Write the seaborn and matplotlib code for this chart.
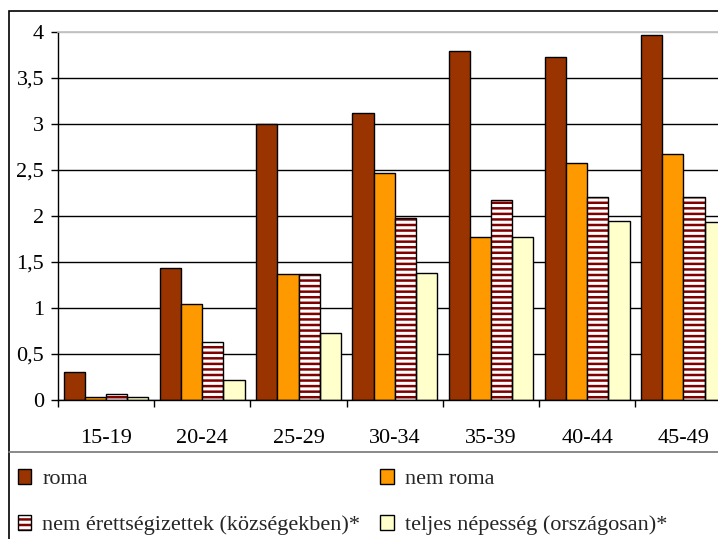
import matplotlib

matplotlib.use("Agg")
import matplotlib.pyplot as plt
import numpy as np
import pandas as pd
import seaborn as sns
from matplotlib.lines import Line2D
from matplotlib.patches import Patch, Rectangle
from matplotlib.ticker import FuncFormatter

# ---- data ----
age_groups = ["15-19", "20-24", "25-29", "30-34", "35-39", "40-44", "45-49"]
roma = [0.30, 1.43, 3.00, 3.12, 3.79, 3.73, 3.97]
nem_roma = [0.03, 1.04, 1.37, 2.47, 1.77, 2.58, 2.67]
nem_erettsegizett = [0.07, 0.63, 1.37, 1.98, 2.17, 2.21, 2.21]
teljes_nepesseg = [0.03, 0.22, 0.73, 1.38, 1.77, 1.95, 1.93]

series_names = [
    "roma",
    "nem roma",
    "nem érettségizettek (községekben)*",
    "teljes népesség (országosan)*",
]
series_colors = ["#993300", "#FF9900", "#FFFFFF", "#FFFFCC"]
stripe_color = "#800000"

df = pd.DataFrame({
    "korcsoport": age_groups * 4,
    "ertek": roma + nem_roma + nem_erettsegizett + teljes_nepesseg,
    "csoport": np.repeat(series_names, len(age_groups)),
})

sns.set_theme(style="white")
plt.rcParams["font.family"] = ["Liberation Serif", "DejaVu Serif"]
plt.rcParams["hatch.linewidth"] = 1.8
FS = 16

W, H = 718, 539
fig = plt.figure(figsize=(W / 100, H / 100), dpi=100)
ax = fig.add_axes([58 / W, 139 / H, 673.5 / W, 368 / H])

sns.barplot(
    data=df, x="korcsoport", y="ertek", hue="csoport",
    order=age_groups, hue_order=series_names,
    palette=dict(zip(series_names, series_colors)),
    width=0.88, saturation=1, errorbar=None,
    edgecolor="black", linewidth=1, legend=False, ax=ax,
)

# striped series: red hatch on white, black outline drawn on top
for bar in ax.containers[2]:
    bar.set_hatch("---")
    bar.set_edgecolor(stripe_color)
    bar.set_linewidth(0)
    ax.add_patch(Rectangle(bar.get_xy(), bar.get_width(), bar.get_height(),
                           fill=False, edgecolor="black", linewidth=1, zorder=3))

ax.set_xlim(-0.5, len(age_groups) - 0.5)
ax.set_ylim(0, 4)
ax.set_yticks(np.arange(0, 4.01, 0.5))
ax.yaxis.set_major_formatter(FuncFormatter(lambda v, _: f"{v:g}".replace(".", ",")))
ax.set_xlabel("")
ax.set_ylabel("")

ax.grid(axis="y", color="black", linewidth=1)
ax.set_axisbelow(True)
ax.yaxis.get_major_ticks()[-1].gridline.set_color("#c0c0c0")

for side in ("left", "bottom"):
    ax.spines[side].set_color("black")
    ax.spines[side].set_linewidth(1)
ax.spines["top"].set_color("#c0c0c0")
ax.spines["right"].set_visible(False)

ax.tick_params(axis="y", left=True, length=5, width=1, color="black",
               labelsize=FS, pad=5, labelcolor="black")
ax.tick_params(axis="x", which="major", length=0, pad=21, labelsize=FS,
               labelcolor="black")
ax.set_xticks(np.arange(-0.5, len(age_groups), 1), minor=True)
ax.tick_params(axis="x", which="minor", bottom=True, length=5, width=1,
               color="black")

# legend: two columns below the plot
handles = [
    Patch(facecolor=series_colors[0], edgecolor="black", linewidth=1),
    (Patch(facecolor="white", edgecolor=stripe_color, hatch="---", linewidth=0),
     Patch(fill=False, edgecolor="black", linewidth=1)),
    Patch(facecolor=series_colors[1], edgecolor="black", linewidth=1),
    Patch(facecolor=series_colors[3], edgecolor="black", linewidth=1),
]
labels = [series_names[0], series_names[2], series_names[1], series_names[3]]
fig.legend(
    handles, labels, loc="upper left", bbox_to_anchor=(18 / W, 1 - 469 / H),
    ncol=2, frameon=False, fontsize=FS, handlelength=0.6, handleheight=0.65,
    handletextpad=0.5, columnspacing=0.9, labelspacing=1.15,
    borderaxespad=0, borderpad=0,
)

# outer chart frame and the line above the legend
fig.add_artist(Rectangle((8.5 / W, -0.1), 1.2, 1.1 - 11 / H,
                         transform=fig.transFigure, fill=False,
                         edgecolor="black", linewidth=1.2))
fig.add_artist(Line2D([8.5 / W, 1], [1 - 452 / H] * 2, transform=fig.transFigure,
                      color="#808080", linewidth=1.3))

fig.savefig("out.png", dpi=100)
plt.close(fig)
